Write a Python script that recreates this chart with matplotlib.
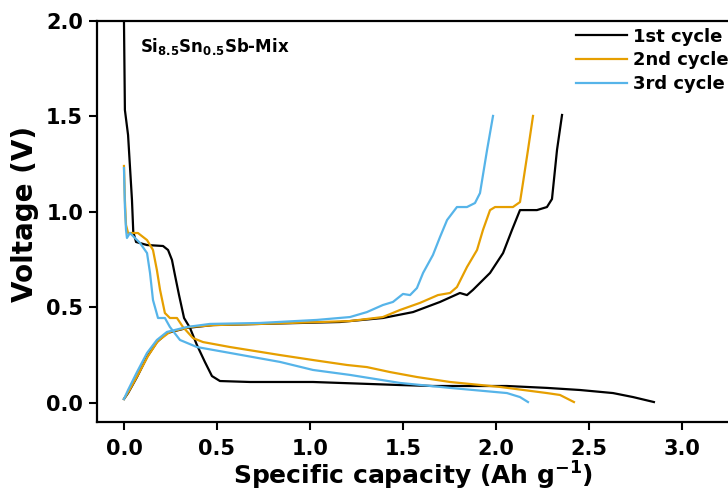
import matplotlib
matplotlib.use("Agg")
import matplotlib.pyplot as plt

# 1st cycle
dis1_x = [0.000, 0.005, 0.022, 0.043, 0.050, 0.065, 0.124, 0.210, 0.237, 0.258, 0.274, 0.296,
          0.323, 0.355, 0.392, 0.435, 0.473, 0.516, 0.677, 1.016, 1.484, 1.661, 2.059, 2.274,
          2.452, 2.629, 2.737, 2.849]
dis1_v = [2.000, 1.534, 1.403, 1.063, 0.895, 0.843, 0.827, 0.822, 0.801, 0.749, 0.670, 0.565,
          0.445, 0.393, 0.304, 0.215, 0.141, 0.115, 0.110, 0.110, 0.094, 0.089, 0.089, 0.079,
          0.068, 0.052, 0.031, 0.005]
chg1_x = [0.000, 0.022, 0.070, 0.124, 0.177, 0.231, 0.339, 0.478, 0.731, 1.161, 1.392, 1.554,
          1.699, 1.806, 1.844, 1.876, 1.968, 2.038, 2.086, 2.129, 2.220, 2.274, 2.301, 2.328, 2.355]
chg1_v = [0.021, 0.052, 0.136, 0.241, 0.319, 0.366, 0.393, 0.408, 0.414, 0.424, 0.445, 0.476,
          0.529, 0.576, 0.565, 0.592, 0.681, 0.785, 0.906, 1.010, 1.010, 1.026, 1.068, 1.325, 1.508]

# 2nd cycle
dis2_x = [0.000, 0.005, 0.011, 0.022, 0.075, 0.124, 0.156, 0.177, 0.194, 0.220, 0.247, 0.285,
          0.317, 0.371, 0.425, 0.570, 0.839, 1.016, 1.199, 1.306, 1.430, 1.575, 1.753, 2.022,
          2.274, 2.344, 2.419]
dis2_v = [1.241, 1.063, 0.932, 0.890, 0.890, 0.853, 0.801, 0.696, 0.592, 0.471, 0.445, 0.445,
          0.398, 0.340, 0.319, 0.293, 0.251, 0.225, 0.199, 0.188, 0.162, 0.136, 0.110, 0.084,
          0.052, 0.042, 0.005]
chg2_x = [0.000, 0.027, 0.075, 0.129, 0.183, 0.247, 0.355, 0.489, 0.731, 1.215, 1.392, 1.484,
          1.591, 1.688, 1.753, 1.790, 1.844, 1.898, 1.930, 1.968, 1.995, 2.091, 2.129, 2.145,
          2.172, 2.199]
chg2_v = [0.021, 0.063, 0.147, 0.246, 0.325, 0.372, 0.398, 0.408, 0.414, 0.429, 0.450, 0.487,
          0.524, 0.565, 0.576, 0.607, 0.712, 0.801, 0.906, 1.010, 1.026, 1.026, 1.052, 1.152,
          1.325, 1.503]

# 3rd cycle
dis3_x = [0.000, 0.005, 0.011, 0.016, 0.032, 0.086, 0.124, 0.140, 0.156, 0.183, 0.220, 0.247,
          0.301, 0.392, 0.570, 0.839, 1.016, 1.215, 1.484, 1.753, 2.059, 2.129, 2.172]
dis3_v = [1.230, 1.026, 0.906, 0.864, 0.890, 0.838, 0.785, 0.681, 0.539, 0.445, 0.445, 0.398,
          0.330, 0.293, 0.262, 0.215, 0.173, 0.147, 0.105, 0.079, 0.052, 0.031, 0.005]
chg3_x = [0.000, 0.022, 0.070, 0.124, 0.177, 0.231, 0.339, 0.462, 0.731, 1.038, 1.215, 1.306,
          1.392, 1.446, 1.500, 1.538, 1.575, 1.608, 1.661, 1.699, 1.737, 1.790, 1.844, 1.887,
          1.914, 1.952, 1.984]
chg3_v = [0.021, 0.068, 0.162, 0.262, 0.330, 0.372, 0.398, 0.414, 0.419, 0.435, 0.450, 0.476,
          0.513, 0.529, 0.571, 0.565, 0.602, 0.681, 0.775, 0.869, 0.958, 1.026, 1.026, 1.047,
          1.099, 1.325, 1.503]

cycles = [
    ("1st cycle", "#000000", dis1_x, dis1_v, chg1_x, chg1_v),
    ("2nd cycle", "#E69F00", dis2_x, dis2_v, chg2_x, chg2_v),
    ("3rd cycle", "#56B4E9", dis3_x, dis3_v, chg3_x, chg3_v),
]

plt.rcParams["font.family"] = "DejaVu Sans"
plt.rcParams["font.weight"] = "bold"
plt.rcParams["mathtext.default"] = "bf"

fig = plt.figure(figsize=(7.28, 4.95), dpi=100)
ax = fig.add_axes([97 / 728, 73 / 495, 633 / 728, 401 / 495])

for lbl, c, dx, dv, cx, cv in cycles:
    ax.plot(dx, dv, color=c, lw=1.6, label=lbl)
    ax.plot(cx, cv, color=c, lw=1.6)

ax.set_xlim(-0.145, 3.258)
ax.set_ylim(-0.0995, 2.0)
ax.set_xticks([0.0, 0.5, 1.0, 1.5, 2.0, 2.5, 3.0])
ax.set_yticks([0.0, 0.5, 1.0, 1.5, 2.0])
ax.xaxis.set_major_formatter(matplotlib.ticker.FormatStrFormatter("%.1f"))
ax.yaxis.set_major_formatter(matplotlib.ticker.FormatStrFormatter("%.1f"))
ax.tick_params(direction="out", length=6, width=1.5, labelsize=15)
ax.tick_params(axis="x", pad=6)
ax.tick_params(axis="y", pad=4)
for s in ax.spines.values():
    s.set_linewidth(1.6)

ax.set_xlabel(r"Specific capacity (Ah g$^{-1}$)", fontsize=18, fontweight="bold", labelpad=1)
ax.set_ylabel("Voltage (V)", fontsize=20, fontweight="bold")
ax.yaxis.set_label_coords(-0.092, 0.52)

ax.text(0.086, 1.869, r"Si$_{8.5}$Sn$_{0.5}$Sb-Mix", fontsize=12, fontweight="bold",
        va="center", ha="left")

leg = ax.legend(loc="upper left", bbox_to_anchor=(576 / 728, 1 - 27.5 / 495),
                bbox_transform=fig.transFigure, frameon=False, fontsize=13,
                handlelength=2.85, handletextpad=0.3, labelspacing=0.33,
                borderpad=0, borderaxespad=0)
for t in leg.get_texts():
    t.set_fontweight("bold")

fig.savefig("out.png", dpi=100)
